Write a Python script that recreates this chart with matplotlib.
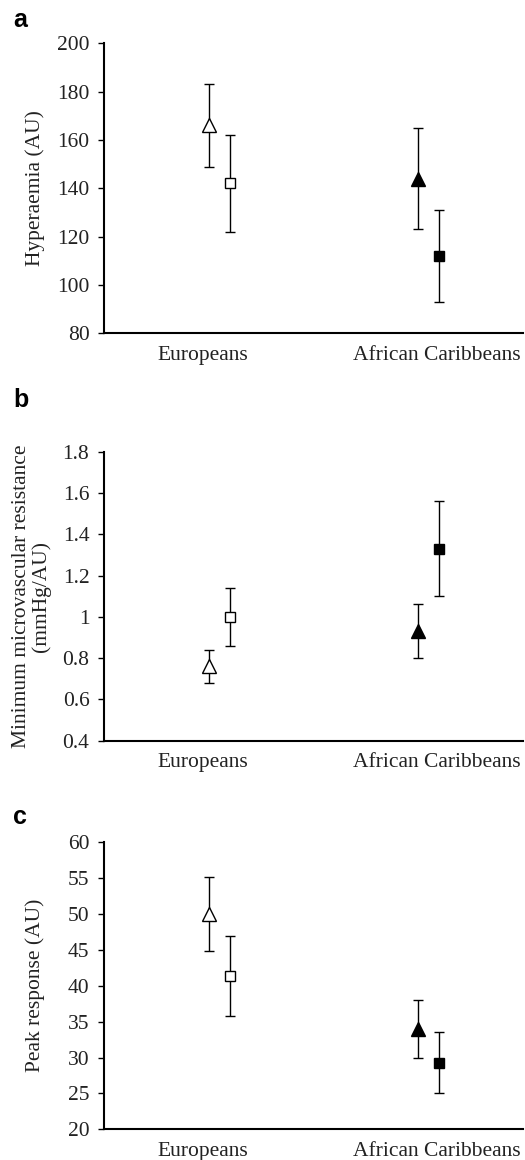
import matplotlib
matplotlib.use('Agg')
import matplotlib.pyplot as plt

# ==========================================
# data
# ==========================================
categories = ['Europeans', 'African Caribbeans']

# a: hyperaemia (AU)
hyp_tri = [166.0, 144.0]
hyp_tri_err = [17.0, 21.0]
hyp_sq = [142.0, 112.0]
hyp_sq_err = [20.0, 19.0]

# b: minimum microvascular resistance (mmHg/AU)
mmr_tri = [0.76, 0.93]
mmr_tri_err = [0.08, 0.13]
mmr_sq = [1.0, 1.33]
mmr_sq_err = [0.14, 0.23]

# c: peak response (AU)
peak_tri = [50.0, 34.0]
peak_tri_err = [5.2, 4.0]
peak_sq = [41.4, 29.3]
peak_sq_err = [5.6, 4.2]

# ==========================================
# style
# ==========================================
FIG_SIZE = (5.25, 11.6)
DPI = 100
SERIF = ['Liberation Serif', 'DejaVu Serif']
FONT_SIZE = 15.5
TEXT_COLOR = '#222222'
AX_LEFT = 104 / 525
AX_WIDTH = (523 - 104) / 525
CAT_X = [0.5, 1.5]          # triangle positions
SQ_SHIFT = 0.1              # square offset to the right
LABEL_X = [0.47, 1.59]      # where category labels sit


def draw_panel(ax, tri, tri_err, sq, sq_err, ylim, yticks, yfmt, ylabel):
    fills = ['white', 'black']
    for i in range(len(categories)):
        ax.errorbar(CAT_X[i], tri[i], yerr=tri_err[i], fmt='^', color='black',
                    mfc=fills[i], mec='black', ms=9.5, mew=1.0,
                    elinewidth=1.0, capsize=3.5, capthick=1.0, zorder=3)
        ax.errorbar(CAT_X[i] + SQ_SHIFT, sq[i], yerr=sq_err[i], fmt='s', color='black',
                    mfc=fills[i], mec='black', ms=7.5, mew=1.0,
                    elinewidth=1.0, capsize=3.5, capthick=1.0, zorder=3)

    ax.set_xlim(0, 2)
    ax.set_ylim(*ylim)
    ax.set_yticks(yticks)
    ax.set_yticklabels([yfmt(v) for v in yticks])
    ax.set_xticks(LABEL_X)
    ax.set_xticklabels(categories)

    for s in ['top', 'right']:
        ax.spines[s].set_visible(False)
    for s in ['left', 'bottom']:
        ax.spines[s].set_linewidth(1.5)
        ax.spines[s].set_color('black')

    ax.tick_params(axis='y', direction='out', length=4.5, width=1.0,
                   pad=6, labelsize=FONT_SIZE, labelcolor=TEXT_COLOR)
    ax.tick_params(axis='x', length=0, pad=9,
                   labelsize=FONT_SIZE, labelcolor=TEXT_COLOR)
    for lab in ax.get_xticklabels() + ax.get_yticklabels():
        lab.set_family(SERIF)

    ax.set_ylabel(ylabel, fontsize=FONT_SIZE, family=SERIF, color=TEXT_COLOR,
                  linespacing=1.05)


def main():
    fig = plt.figure(figsize=FIG_SIZE, dpi=DPI)

    # axes boxes in figure fractions (bottom, height)
    boxes = [(1 - 333.3 / 1160, 290 / 1160),
             (1 - 740.7 / 1160, 289 / 1160),
             (1 - 1129.3 / 1160, 287 / 1160)]
    axes = [fig.add_axes([AX_LEFT, b, AX_WIDTH, h]) for b, h in boxes]

    draw_panel(axes[0], hyp_tri, hyp_tri_err, hyp_sq, hyp_sq_err,
               (80, 200), list(range(80, 201, 20)), lambda v: f'{v:d}',
               'Hyperaemia (AU)')
    draw_panel(axes[1], mmr_tri, mmr_tri_err, mmr_sq, mmr_sq_err,
               (0.4, 1.8), [0.4, 0.6, 0.8, 1.0, 1.2, 1.4, 1.6, 1.8],
               lambda v: '1' if abs(v - 1) < 1e-9 else f'{v:.1f}',
               'Minimum microvascular resistance\n(mmHg/AU)')
    draw_panel(axes[2], peak_tri, peak_tri_err, peak_sq, peak_sq_err,
               (20, 60), list(range(20, 61, 5)), lambda v: f'{v:d}',
               'Peak response (AU)')

    axes[0].yaxis.set_label_coords(-0.141, 0.5)
    axes[1].yaxis.set_label_coords(-0.126, 0.5)
    axes[2].yaxis.set_label_coords(-0.141, 0.5)

    # panel letters
    for letter, ypx in zip('abc', [20, 400, 817]):
        fig.text(13 / 525, 1 - ypx / 1160, letter, fontsize=18, fontweight='bold',
                 family=['Liberation Sans', 'DejaVu Sans'], va='center', ha='left')

    fig.savefig('out.png', dpi=DPI)


if __name__ == '__main__':
    main()
